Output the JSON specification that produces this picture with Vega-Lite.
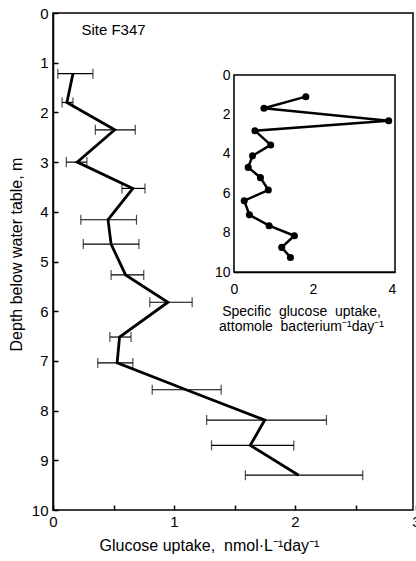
{
  "$schema": "https://vega.github.io/schema/vega-lite/v6.json",
  "width": 360,
  "height": 497,
  "autosize": {"type": "none"},
  "padding": {"left": 53, "top": 13, "right": 3, "bottom": 51},
  "background": "white",
  "config": {
    "view": {"stroke": "black", "strokeWidth": 1.5},
    "font": "Liberation Sans",
    "axis": {"domainColor": "black", "domainWidth": 1.5, "tickColor": "black", "labelColor": "black", "titleColor": "black", "grid": false, "titleFontWeight": "normal"}
  },
  "datasets": {
    "main": [
      {"depth": 1.22, "value": 0.165, "lo": 0.04, "hi": 0.33},
      {"depth": 1.8, "value": 0.115, "lo": 0.075, "hi": 0.165},
      {"depth": 2.35, "value": 0.51, "lo": 0.35, "hi": 0.68},
      {"depth": 3.0, "value": 0.2, "lo": 0.11, "hi": 0.28},
      {"depth": 3.53, "value": 0.66, "lo": 0.57, "hi": 0.76},
      {"depth": 4.16, "value": 0.455, "lo": 0.23, "hi": 0.69},
      {"depth": 4.65, "value": 0.48, "lo": 0.25, "hi": 0.71},
      {"depth": 5.27, "value": 0.6, "lo": 0.48, "hi": 0.75},
      {"depth": 5.82, "value": 0.95, "lo": 0.8, "hi": 1.15},
      {"depth": 6.52, "value": 0.55, "lo": 0.47, "hi": 0.645},
      {"depth": 7.04, "value": 0.53, "lo": 0.37, "hi": 0.66},
      {"depth": 7.58, "value": 1.1, "lo": 0.82, "hi": 1.39},
      {"depth": 8.19, "value": 1.75, "lo": 1.27, "hi": 2.26},
      {"depth": 8.7, "value": 1.63, "lo": 1.31, "hi": 1.99},
      {"depth": 9.3, "value": 2.03, "lo": 1.59, "hi": 2.56}
    ],
    "inset": [
      {"depth": 1.1, "value": 1.82},
      {"depth": 1.69, "value": 0.76},
      {"depth": 2.32, "value": 3.92},
      {"depth": 2.83, "value": 0.53},
      {"depth": 3.55, "value": 0.93},
      {"depth": 4.1, "value": 0.47},
      {"depth": 4.69, "value": 0.36},
      {"depth": 5.21, "value": 0.67},
      {"depth": 5.84, "value": 0.87},
      {"depth": 6.38, "value": 0.26},
      {"depth": 7.1, "value": 0.39},
      {"depth": 7.65, "value": 0.89},
      {"depth": 8.16, "value": 1.53},
      {"depth": 8.75, "value": 1.21},
      {"depth": 9.26, "value": 1.43}
    ],
    "frame": [{"x": 0, "x2": 4.08, "y": 0, "y2": 10}],
    "label": [{"value": 0.5, "depth": 0.35, "text": "Site  F347"}]
  },
  "layer": [
    {
      "layer": [
        {
          "data": {"name": "main"},
          "mark": {"type": "errorbar", "ticks": {"size": 10, "thickness": 1.2, "color": "black"}, "rule": {"strokeWidth": 1.2, "color": "black"}},
          "encoding": {
            "x": {"field": "lo", "type": "quantitative", "scale": {"domain": [0, 3], "range": [0, 363], "nice": false, "zero": false},
              "axis": {"values": [0, 0.5, 1, 1.5, 2, 2.5, 3], "labelExpr": "datum.value % 1 === 0 ? format(datum.value, 'd') : ''", "domain": false, "tickSize": -5, "tickWidth": 1.5, "labelPadding": 9, "labelFontSize": 15, "labelFlush": false, "title": "Glucose uptake,\u00a0 nmol·L⁻¹day⁻¹", "titleFontSize": 16, "titleX": 156, "titlePadding": 8}},
            "x2": {"field": "hi"},
            "y": {"field": "depth", "type": "quantitative", "scale": {"domain": [0, 10], "reverse": true, "nice": false},
              "axis": {"values": [0, 1, 2, 3, 4, 5, 6, 7, 8, 9, 10], "tickSize": -5, "tickWidth": 1.5, "labelPadding": 10, "labelFontSize": 15, "title": "Depth below water table, m", "titleFontSize": 16, "titleX": -37, "titleY": 241, "titleBaseline": "middle"}}
          }
        },
        {
          "data": {"name": "main"},
          "mark": {"type": "line", "color": "black", "strokeWidth": 2.8},
          "encoding": {
            "x": {"field": "value", "type": "quantitative"},
            "y": {"field": "depth", "type": "quantitative"},
            "order": {"field": "depth", "type": "quantitative"}
          }
        },
        {
          "data": {"name": "label"},
          "mark": {"type": "text", "fontSize": 15, "color": "black", "align": "center"},
          "encoding": {
            "x": {"field": "value", "type": "quantitative"},
            "y": {"field": "depth", "type": "quantitative"},
            "text": {"field": "text"}
          }
        }
      ]
    },
    {
      "layer": [
        {
          "data": {"name": "frame"},
          "mark": {"type": "rect", "fill": "white", "stroke": "black", "strokeWidth": 1.5},
          "encoding": {
            "x": {"field": "x", "type": "quantitative", "scale": {"domain": [0, 4.08], "range": [181, 342], "nice": false, "zero": false},
              "axis": {"orient": "bottom", "offset": -238, "values": [0, 1, 2, 3, 4], "labelExpr": "datum.value % 2 === 0 ? format(datum.value, 'd') : ''", "tickSize": -4, "tickWidth": 1.2, "labelPadding": 14, "labelFontSize": 14, "labelFlush": false,
                "title": ["Specific\u00a0 glucose\u00a0 uptake,", "attomole\u00a0 bacterium⁻¹day⁻¹"], "titleFontSize": 14, "titleX": 248, "titlePadding": 8, "titleLineHeight": 15}},
            "x2": {"field": "x2"},
            "y": {"field": "y", "type": "quantitative", "scale": {"domain": [0, 10], "range": [62, 259], "nice": false, "zero": false},
              "axis": {"orient": "left", "offset": -181, "values": [0, 1, 2, 3, 4, 5, 6, 7, 8, 9, 10], "labelExpr": "datum.value % 2 === 0 ? format(datum.value, 'd') : ''", "tickSize": -4, "tickWidth": 1.2, "labelPadding": 8, "labelFontSize": 14, "labelFlush": false, "title": null}},
            "y2": {"field": "y2"}
          }
        },
        {
          "data": {"name": "inset"},
          "mark": {"type": "line", "color": "black", "strokeWidth": 2.5, "point": {"filled": true, "color": "black", "size": 50}},
          "encoding": {
            "x": {"field": "value", "type": "quantitative"},
            "y": {"field": "depth", "type": "quantitative"},
            "order": {"field": "depth", "type": "quantitative"}
          }
        }
      ]
    }
  ],
  "resolve": {"scale": {"x": "independent", "y": "independent"}, "axis": {"x": "independent", "y": "independent"}}
}
